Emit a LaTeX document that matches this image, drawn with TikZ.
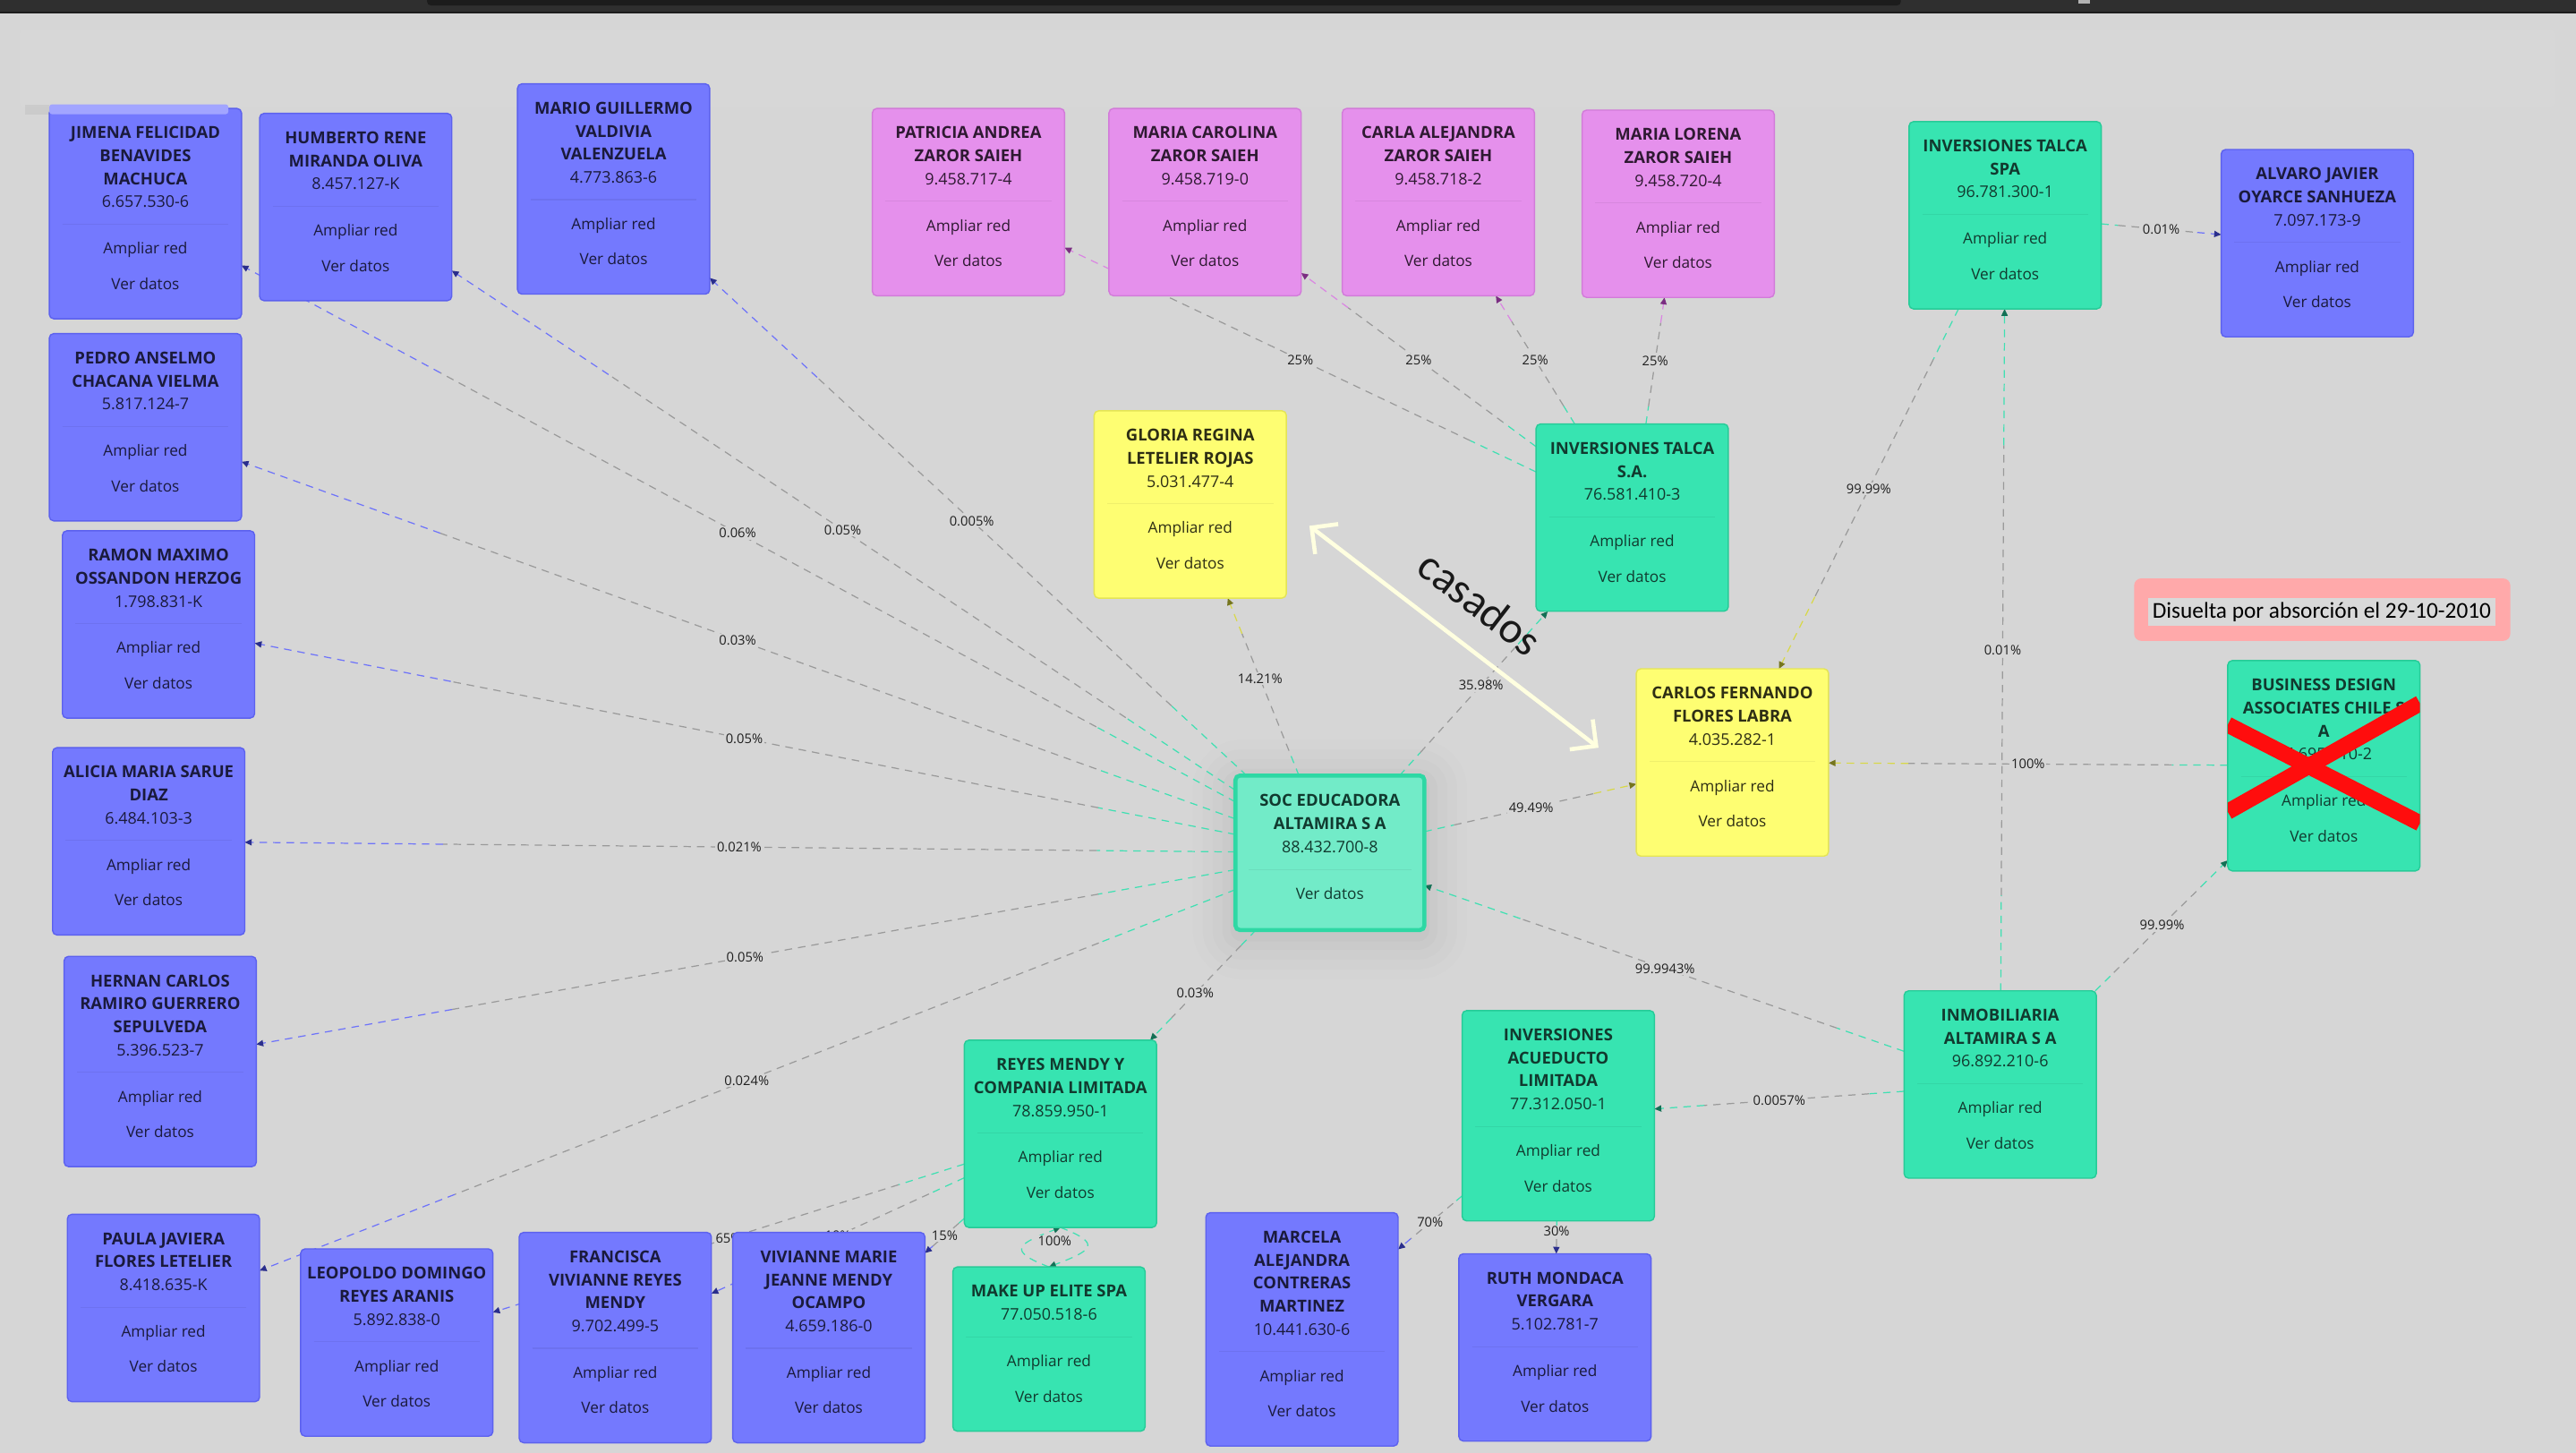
\documentclass[tikz,border=0pt]{standalone}
\usepackage{fontspec}
\setmainfont{Open Sans}
\newfontfamily\manoFont{Carlito}
\usetikzlibrary{arrows.meta,calc}

\definecolor{fondo}{HTML}{D6D6D6}
\definecolor{persona}{HTML}{7479FE}
\definecolor{personaBorde}{HTML}{5C61EE}
\definecolor{personaTexto}{HTML}{1A1A3C}
\definecolor{personaPunta}{HTML}{2A2E8C}
\definecolor{personaLinea}{HTML}{6E73FA}
\definecolor{zaror}{HTML}{E590EC}
\definecolor{zarorBorde}{HTML}{D27BD9}
\definecolor{zarorTexto}{HTML}{2F1932}
\definecolor{zarorPunta}{HTML}{7B2D82}
\definecolor{zarorLinea}{HTML}{DA86E2}
\definecolor{conyuge}{HTML}{FEFE72}
\definecolor{conyugeBorde}{HTML}{E4E455}
\definecolor{conyugeTexto}{HTML}{2E2E14}
\definecolor{conyugePunta}{HTML}{75751E}
\definecolor{conyugeLinea}{HTML}{D8D84A}
\definecolor{empresa}{HTML}{37E4B1}
\definecolor{empresaBorde}{HTML}{27CB98}
\definecolor{empresaTexto}{HTML}{113A2F}
\definecolor{empresaPunta}{HTML}{137055}
\definecolor{empresaLinea}{HTML}{3FE0B2}
\definecolor{socRelleno}{HTML}{72EBC8}
\definecolor{socBorde}{HTML}{2ED8A4}
\definecolor{linea}{HTML}{9A9A9A}
\definecolor{crema}{HTML}{FFFFE0}
\definecolor{rosaNota}{HTML}{FFA9AA}
\definecolor{fondoNota}{HTML}{D9D9D9}
\definecolor{rojoCruz}{HTML}{FF0D0D}
\definecolor{barra}{HTML}{2F2F2F}
\definecolor{barraNegra}{HTML}{1C1C1C}
\definecolor{fantasma}{HTML}{A2A5FF}

\pgfdeclarelayer{capafondo}
\pgfdeclarelayer{enlaces}
\pgfsetlayers{capafondo,enlaces,main}

\newcommand{\upx}{0.18355mm}

\begin{document}
\begin{tikzpicture}[x=0.18355mm, y=-0.18355mm,
    tarjeta/.style={rectangle, rounded corners=0.5mm, line width=0.4pt, fill=#1, draw=#1Borde,
                    minimum width=117*\upx, inner sep=0pt, outer sep=0pt, anchor=north west},
    titulo/.style={text=#1Texto, font=\bfseries\fontsize{5.25}{6}\selectfont, anchor=base, inner sep=0pt},
    dato/.style={text=#1Texto, font=\fontsize{4.9}{5.5}\selectfont, anchor=base, inner sep=0pt},
    rutdato/.style={dato=#1, font=\fontsize{5.1}{5.5}\selectfont},
    divisor/.style={draw=black, draw opacity=0.06, line width=0.35pt},
    enlace/.style={draw=linea, line width=0.35pt, dash pattern=on 2.4pt off 1.9pt},
    punta/.style={-{Triangle[length=2.2pt, width=2pt, color=#1Punta]}},
    porcentaje/.style={font=\fontsize{4.2}{5}\selectfont, text=black!88, fill=fondo, inner sep=0.5pt},
    casado/.style={draw=crema, line width=1.3pt,
                   {Straight Barb[length=6pt, width=12pt]}-{Straight Barb[length=6pt, width=12pt]}},
    tachado/.style={draw=rojoCruz, line width=5.1pt}]

    \useasboundingbox (0,0) rectangle (1568,884.2);

    % Fondo y barra superior:
    \begin{pgfonlayer}{capafondo}
        \fill[fondo] (0,0) rectangle (1568,884.2);
        \fill[barra] (0,0) rectangle (1568,8);
        \fill[barraNegra] (0,7) rectangle (1568,8);
        \fill[barraNegra, rounded corners=0.4mm] (260,-3) rectangle (1157,3.3);
        \fill[gray!60] (1265,0) rectangle (1272,2.2);
        \fill[white, opacity=0.035, rounded corners=0.5mm] (12,18) rectangle (1555,65);
        % Sombra de la sociedad central
        \foreach \d/\o in {26/0.008, 20/0.01, 14/0.012, 8/0.015, 3/0.02}
            \fill[black, opacity=\o, rounded corners={(\d+4)*\upx}] (752-\d,476-\d) rectangle (867+\d,570+\d);
    \end{pgfonlayer}

    % Tarjetas:
    \foreach \nom/\px/\py/\nl/\tipo/\nombres/\rut in {
        jimena/30/66/3/persona/{JIMENA FELICIDAD,BENAVIDES,MACHUCA}/6.657.530-6,
        humberto/158/69/2/persona/{HUMBERTO RENE,MIRANDA OLIVA}/8.457.127-K,
        mario/315/51/3/persona/{MARIO GUILLERMO,VALDIVIA,VALENZUELA}/4.773.863-6,
        pedro/30/203/2/persona/{PEDRO ANSELMO,CHACANA VIELMA}/5.817.124-7,
        ramon/38/323/2/persona/{RAMON MAXIMO,OSSANDON HERZOG}/1.798.831-K,
        alicia/32/455/2/persona/{ALICIA MARIA SARUE,DIAZ}/6.484.103-3,
        hernan/39/582/3/persona/{HERNAN CARLOS,RAMIRO GUERRERO,SEPULVEDA}/5.396.523-7,
        paula/41/739/2/persona/{PAULA JAVIERA,FLORES LETELIER}/8.418.635-K,
        leopoldo/183/760/2/persona/{LEOPOLDO DOMINGO,REYES ARANIS}/5.892.838-0,
        francisca/316/750/3/persona/{FRANCISCA,VIVIANNE REYES,MENDY}/9.702.499-5,
        vivianne/446/750/3/persona/{VIVIANNE MARIE,JEANNE MENDY,OCAMPO}/4.659.186-0,
        marcela/734/738/4/persona/{MARCELA,ALEJANDRA,CONTRERAS,MARTINEZ}/10.441.630-6,
        ruth/888/763/2/persona/{RUTH MONDACA,VERGARA}/5.102.781-7,
        alvaro/1352/91/2/persona/{ALVARO JAVIER,OYARCE SANHUEZA}/7.097.173-9,
        patricia/531/66/2/zaror/{PATRICIA ANDREA,ZAROR SAIEH}/9.458.717-4,
        carolina/675/66/2/zaror/{MARIA CAROLINA,ZAROR SAIEH}/9.458.719-0,
        carla/817/66/2/zaror/{CARLA ALEJANDRA,ZAROR SAIEH}/9.458.718-2,
        lorena/963/67/2/zaror/{MARIA LORENA,ZAROR SAIEH}/9.458.720-4,
        gloria/666/250/2/conyuge/{GLORIA REGINA,LETELIER ROJAS}/5.031.477-4,
        carlos/996/407/2/conyuge/{CARLOS FERNANDO,FLORES LABRA}/4.035.282-1,
        talcasa/935/258/2/empresa/{INVERSIONES TALCA,S.A.}/76.581.410-3,
        talcaspa/1162/74/2/empresa/{INVERSIONES TALCA,SPA}/96.781.300-1,
        bda/1356/402/3/empresa/{BUSINESS DESIGN,ASSOCIATES CHILE S,A}/96.695.010-2,
        inmob/1159/603/2/empresa/{INMOBILIARIA,ALTAMIRA S A}/96.892.210-6,
        acueducto/890/615/3/empresa/{INVERSIONES,ACUEDUCTO,LIMITADA}/77.312.050-1,
        reyes/587/633/2/empresa/{REYES MENDY Y,COMPANIA LIMITADA}/78.859.950-1,
        makeup/580/771/1/empresa/{MAKE UP ELITE SPA}/77.050.518-6}{
        \node[tarjeta=\tipo, minimum height={(86+14*\nl)*\upx}] (\nom) at (\px,\py) {};
        \foreach \lin [count=\i] in \nombres
            \node[titulo=\tipo] (\nom-t\i) at (\px+58.5,\py+14*\i+4.4) {\lin};
        \node[rutdato=\tipo] (\nom-rut) at (\px+58.5,\py+14*\nl+18.4) {\rut};
        \draw[divisor] (\px+8,\py+14*\nl+28.5) -- (\px+109,\py+14*\nl+28.5);
        \node[dato=\tipo] (\nom-red) at (\px+58.5,\py+14*\nl+46.7) {Ampliar red};
        \node[dato=\tipo] (\nom-datos) at (\px+58.5,\py+14*\nl+68.2) {Ver datos};
    }

    % Sociedad central:
    \node[tarjeta=empresa, fill=socRelleno, draw=socBorde, line width=1.3pt,
          minimum width=115*\upx, minimum height=94*\upx] (soc) at (752,472) {};
    \node[titulo=empresa] (soc-t1) at (809.5,490.8) {SOC EDUCADORA};
    \node[titulo=empresa] (soc-t2) at (809.5,504.8) {ALTAMIRA S A};
    \node[rutdato=empresa] (soc-rut) at (809.5,518.8) {88.432.700-8};
    \draw[divisor] (760,529.5) -- (859,529.5);
    \node[dato=empresa] (soc-datos) at (809.5,547.5) {Ver datos};

    % Participaciones:
    \begin{pgfonlayer}{enlaces}
        \foreach \desde/\hacia/\p/\tipo in {
            soc/jimena/0.06\%/persona, soc/humberto/0.05\%/persona, soc/mario/0.005\%/persona,
            soc/pedro/0.03\%/persona, soc/ramon/0.05\%/persona, soc/alicia/0.021\%/persona,
            soc/hernan/0.05\%/persona, soc/paula/0.024\%/persona, soc/reyes/0.03\%/empresa,
            soc/gloria/14.21\%/conyuge, soc/talcasa/35.98\%/empresa, soc/carlos/49.49\%/conyuge,
            inmob/soc/99.9943\%/empresa, inmob/acueducto/0.0057\%/empresa,
            inmob/talcaspa/0.01\%/empresa, inmob/bda/99.99\%/empresa,
            bda/carlos/100\%/conyuge, talcaspa/carlos/99.99\%/conyuge, talcaspa/alvaro/0.01\%/persona,
            talcasa/patricia/25\%/zaror, talcasa/carolina/25\%/zaror,
            talcasa/carla/25\%/zaror, talcasa/lorena/25\%/zaror,
            acueducto/marcela/70\%/persona, acueducto/ruth/30\%/persona,
            reyes/leopoldo/65\%/persona, reyes/francisca/10\%/persona, reyes/vivianne/15\%/persona}{
            \path (\desde) -- (\hacia) coordinate[pos=0.14] (cola) coordinate[pos=0.8] (cabeza);
            \draw[enlace, draw=empresaLinea] (\desde) -- (cola);
            \draw[enlace] (cola) -- (cabeza);
            \draw[enlace, draw=\tipo Linea, punta=\tipo] (cabeza) -- (\hacia);
            \node[porcentaje] (pct-\desde-\hacia) at ($(\desde)!0.5!(\hacia)$) {\p};
        }
        % Lazo entre Reyes Mendy y Make Up
        \draw[enlace, draw=empresaLinea, punta=empresa] (makeup.north) .. controls +(-26,-10) and +(-26,10) .. (reyes.south);
        \draw[enlace, draw=empresaLinea, punta=empresa] (reyes.south) .. controls +(26,10) and +(26,-10) .. (makeup.north);
        \node[porcentaje] (pct-reyes-makeup) at ($(reyes)!0.5!(makeup)$) {100\%};
    \end{pgfonlayer}

    % Franja clara sobre la primera tarjeta:
    \fill[black, opacity=0.05] (15,63.5) rectangle (30,69.5);
    \fill[fantasma, rounded corners=0.3mm] (30,63.5) rectangle (139,69.5);

    % Sociedad disuelta:
    \begin{scope}
        \clip (bda.north west) rectangle (bda.south east);
        \draw[tachado] ($(bda.north west)+(0,39)$) -- ($(bda.north east)+(0,99)$);
        \draw[tachado] ($(bda.north west)+(0,92)$) -- ($(bda.north east)+(0,26)$);
    \end{scope}
    \node[fill=rosaNota, rounded corners=0.8mm, minimum width=229*\upx, minimum height=38*\upx,
          inner sep=0pt] (notaMarco) at (1413.5,371) {};
    \node[fill=fondoNota, minimum width=211.5*\upx, minimum height=17*\upx, inner sep=0pt,
          font=\manoFont\fontsize{7.2}{8}\selectfont] (nota) at (1413.25,372.5) {Disuelta por absorción el 29-10-2010};

    % Casados:
    \coordinate (casA) at (797,320);
    \coordinate (casB) at (973,455);
    \draw[casado] (casA) -- (casB);
    \node[font=\manoFont\fontsize{14}{16}\selectfont, text=black!90, rotate=-37.5, inner sep=0pt] (casados) at (901,367) {casados};
\end{tikzpicture}
\end{document}
